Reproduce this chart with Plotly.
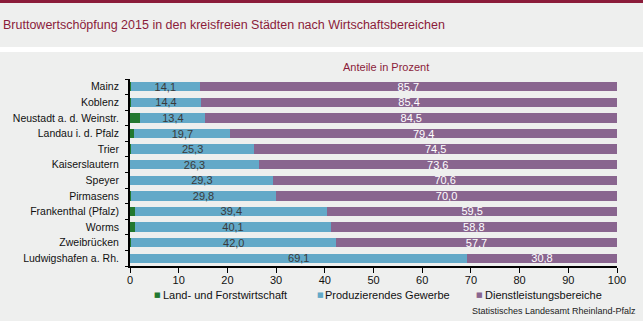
import plotly.graph_objects as go

# Gross value added 2015 by economic sector, share in percent
cities = [
    "Mainz", "Koblenz", "Neustadt a. d. Weinstr.", "Landau i. d. Pfalz", "Trier",
    "Kaiserslautern", "Speyer", "Pirmasens", "Frankenthal (Pfalz)", "Worms",
    "Zweibrücken", "Ludwigshafen a. Rh.",
]
land_forst = [0.2, 0.2, 2.1, 0.9, 0.2, 0.1, 0.1, 0.2, 1.1, 1.1, 0.3, 0.1]
produzierend = [14.1, 14.4, 13.4, 19.7, 25.3, 26.3, 29.3, 29.8, 39.4, 40.1, 42.0, 69.1]
dienstleistung = [85.7, 85.4, 84.5, 79.4, 74.5, 73.6, 70.6, 70.0, 59.5, 58.8, 57.7, 30.8]

series_names = ["Land- und Forstwirtschaft", "Produzierendes Gewerbe", "Dienstleistungsbereiche"]
colors = ["#22782f", "#63a9c8", "#89658f"]
x_ticks = list(range(0, 101, 10))

W, H = 643, 321
L, R, T, B = 130, 26, 79, 55
plot_w = W - L - R
plot_h = H - T - B

def px_x(px):
    return (px - L) / plot_w

def px_y(py):
    return (H - B - py) / plot_h

BG = "#eeefee"
DARK_RED = "#8b1c3a"
FONT = "Liberation Sans, Arial, sans-serif"

fig = go.Figure()
fig.add_bar(
    y=cities, x=land_forst, orientation="h", name=series_names[0],
    marker=dict(color=colors[0], line=dict(width=0)),
    hoverinfo="x+y",
)
fig.add_bar(
    y=cities, x=produzierend, orientation="h", name=series_names[1],
    marker=dict(color=colors[1], line=dict(width=0)),
    texttemplate="%{x:.1f}", textposition="inside", insidetextanchor="middle",
    textangle=0, textfont=dict(color="#3a3a3a", size=11, family=FONT),
    constraintext="none",
)
fig.add_bar(
    y=cities, x=dienstleistung, orientation="h", name=series_names[2],
    marker=dict(color=colors[2], line=dict(width=0)),
    texttemplate="%{x:.1f}", textposition="inside", insidetextanchor="middle",
    textangle=0, textfont=dict(color="#ffffff", size=11, family=FONT),
    constraintext="none",
)

annotations = [
    dict(text="Anteile in Prozent", x=px_x(386), y=px_y(67), xref="paper", yref="paper",
         xanchor="center", yanchor="middle", showarrow=False,
         font=dict(size=11, color=DARK_RED, family=FONT)),
    dict(text="Statistisches Landesamt Rheinland-Pfalz", x=px_x(638), y=px_y(311),
         xref="paper", yref="paper", xanchor="right", yanchor="middle", showarrow=False,
         font=dict(size=9, color="#222222", family=FONT)),
]

# Legend: small coloured squares followed by the series names
legend_pos = [(157.5, 162), (320, 324), (479.5, 484)]
for (sq_px, txt_px), name, col in zip(legend_pos, series_names, colors):
    annotations.append(dict(text="■", x=px_x(sq_px), y=px_y(295), xref="paper", yref="paper",
                            xanchor="center", yanchor="middle", showarrow=False,
                            borderpad=0, font=dict(size=7, color=col, family="DejaVu Sans")))
    annotations.append(dict(text=name, x=px_x(txt_px), y=px_y(295), xref="paper", yref="paper",
                            xanchor="left", yanchor="middle", showarrow=False,
                            borderpad=0, font=dict(size=11, color="#111111", family=FONT)))

shapes = [
    # dark red band across the top
    dict(type="rect", xref="paper", yref="paper", x0=px_x(0), x1=px_x(W),
         y0=px_y(3), y1=px_y(0), fillcolor=DARK_RED, line=dict(width=0), layer="below"),
    # white separator below the title band
    dict(type="rect", xref="paper", yref="paper", x0=px_x(0), x1=px_x(W),
         y0=px_y(52), y1=px_y(47), fillcolor="#ffffff", line=dict(width=0), layer="below"),
]

fig.update_layout(
    width=W, height=H,
    margin=dict(l=L, r=R, t=T, b=B, pad=0),
    barmode="stack", bargap=0.4,
    paper_bgcolor=BG, plot_bgcolor=BG,
    separators=",.",
    showlegend=False,
    uniformtext=dict(mode="show", minsize=11),
    font=dict(family=FONT, size=11, color="#111111"),
    title=dict(
        text="Bruttowertschöpfung 2015 in den kreisfreien Städten nach Wirtschaftsbereichen",
        x=3 / W, xanchor="left", xref="container",
        y=1 - 25 / H, yanchor="middle", yref="container",
        font=dict(size=12.5, color=DARK_RED, family=FONT),
    ),
    xaxis=dict(
        range=[0, 100], tickvals=x_ticks, ticks="outside", ticklen=5, tickwidth=1,
        tickcolor="#000000", showline=True, linecolor="#000000", linewidth=2,
        showgrid=False, zeroline=False, fixedrange=True, automargin=False,
        ticklabelstandoff=-2,
        tickfont=dict(size=11, color="#111111", family=FONT),
    ),
    yaxis=dict(
        categoryorder="array", categoryarray=cities[::-1],
        ticks="outside", ticklen=3, tickwidth=1, tickcolor="#000000",
        tickson="boundaries", showline=True, linecolor="#000000", linewidth=2,
        showgrid=False, zeroline=False, ticklabelstandoff=7, automargin=False,
        tickfont=dict(size=10.5, color="#111111", family=FONT),
    ),
    annotations=annotations,
    shapes=shapes,
)

fig.write_html("out.html")
